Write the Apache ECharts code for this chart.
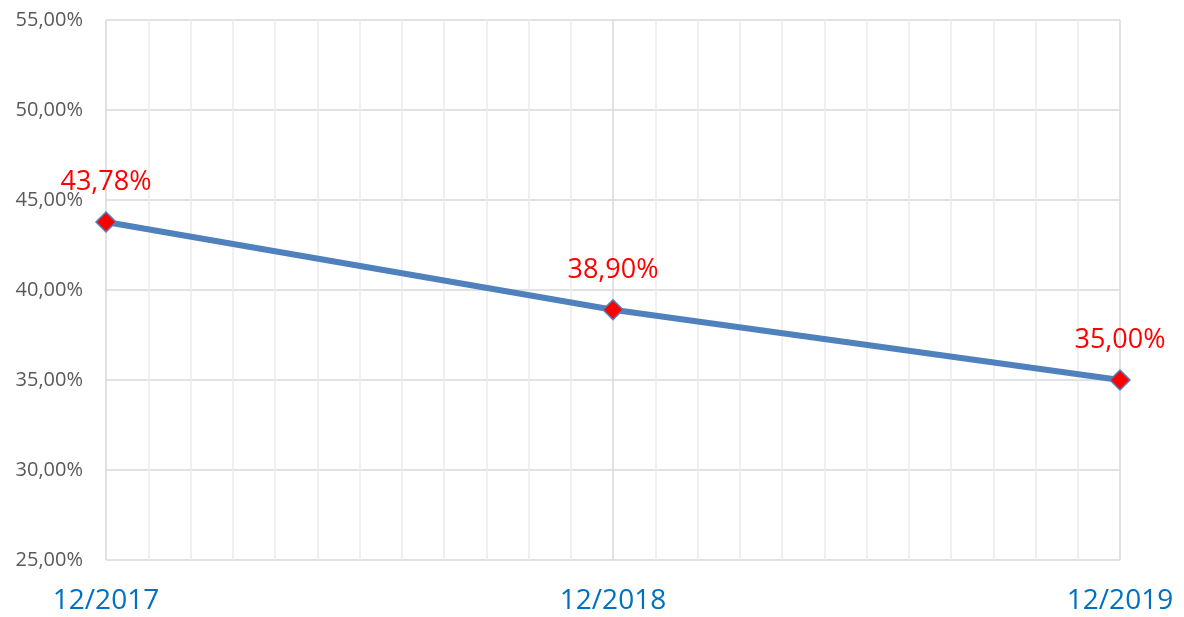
<!DOCTYPE html>
<html>
<head>
<meta charset="utf-8">
<script src="https://cdn.jsdelivr.net/npm/echarts@6/dist/echarts.min.js"></script>
<style>
  html, body { margin: 0; padding: 0; background: #fff; }
  #chart { width: 1184px; height: 617px; }
</style>
</head>
<body>
<div id="chart"></div>
<script>
// dates shown on the x axis, months counted from 12/2017
var dateLabels = ["12/2017", "12/2018", "12/2019"];
var monthOffsets = [0, 12, 24];
var rates = [43.78, 38.90, 35.00];
var yTicks = [25, 30, 35, 40, 45, 50, 55];

function pct(v) {
  return v.toFixed(2).replace(".", ",") + "%";
}

var chart = echarts.init(document.getElementById("chart"));

var points = [];
monthOffsets.forEach(function (m, i) {
  points.push([m, rates[i]]);
});

var option = {
  backgroundColor: "#ffffff",
  animation: false,
  grid: { left: 106, right: 64, top: 20, bottom: 57 },
  xAxis: {
    type: "value",
    min: monthOffsets[0],
    max: monthOffsets[monthOffsets.length - 1],
    interval: 12,
    axisLine: { show: false },
    axisTick: { show: false },
    axisLabel: {
      margin: 27,
      color: "#0070c0",
      fontSize: 28,
      fontFamily: "Open Sans",
      formatter: function (v) {
        return dateLabels[monthOffsets.indexOf(v)] || "";
      }
    },
    splitLine: { show: true, lineStyle: { color: "#d9d9d9", width: 1.5 } },
    minorTick: { show: false, splitNumber: 12 },
    minorSplitLine: { show: true, lineStyle: { color: "#ececec", width: 1.5 } }
  },
  yAxis: {
    type: "value",
    min: yTicks[0],
    max: yTicks[yTicks.length - 1],
    interval: 5,
    axisLine: { show: false },
    axisTick: { show: false },
    axisLabel: {
      margin: 23,
      color: "#595959",
      fontSize: 20,
      fontFamily: "Open Sans",
      formatter: function (v) { return pct(v); }
    },
    splitLine: { show: true, lineStyle: { color: "#d9d9d9", width: 1.5 } }
  },
  series: [
    {
      type: "line",
      data: points,
      lineStyle: { color: "#4f81bd", width: 6 },
      symbol: "diamond",
      symbolSize: 20,
      itemStyle: { color: "#ff0000", borderColor: "#4f81bd", borderWidth: 1.5 },
      label: {
        show: true,
        position: "top",
        distance: 15,
        color: "#ff0000",
        fontSize: 27,
        fontFamily: "Open Sans",
        formatter: function (p) { return pct(p.value[1]); }
      }
    }
  ]
};

option && chart.setOption(option);
</script>
</body>
</html>
